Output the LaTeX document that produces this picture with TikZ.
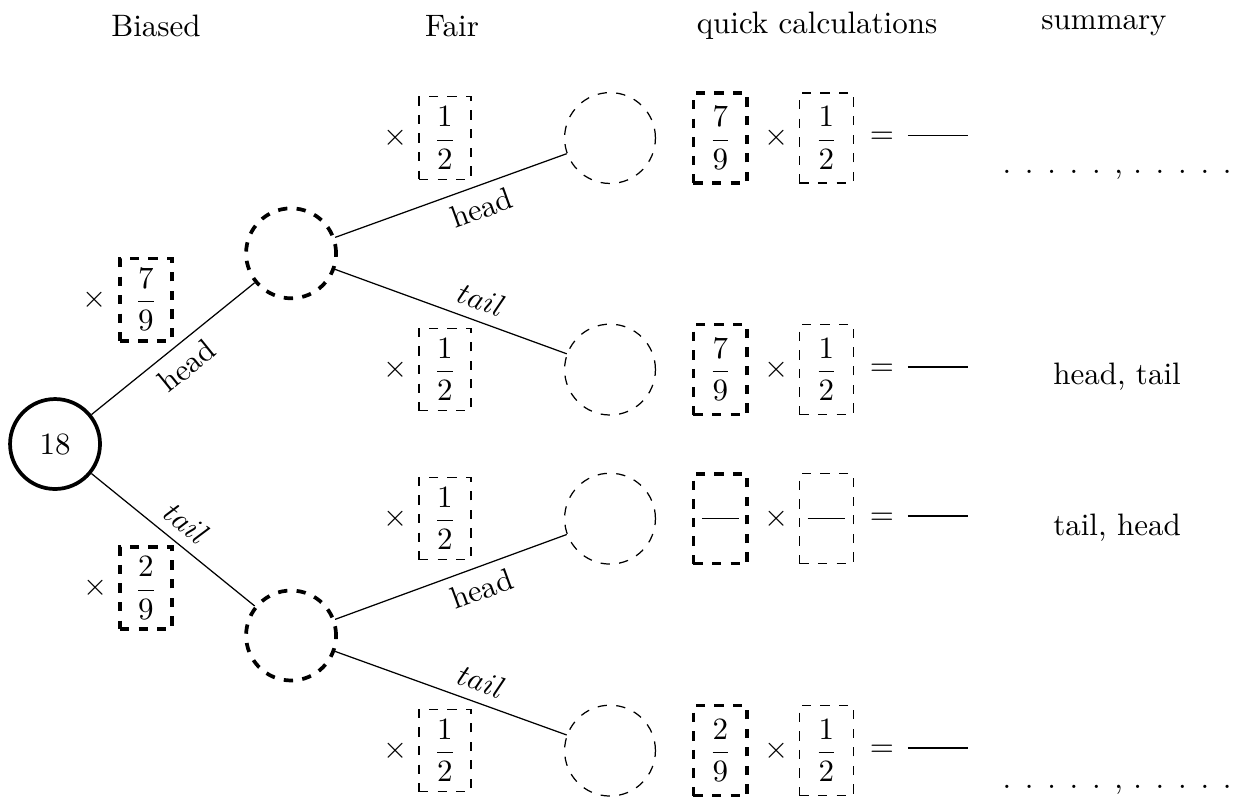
\documentclass[tikz,border=0pt]{standalone}
\usepackage{amsmath}
\usetikzlibrary{positioning}

\begin{document}
\begin{tikzpicture}[
    start/.style={circle, draw, very thick, minimum size=1.02cm},
    biased/.style={circle, draw, very thick, dashed, minimum size=1.02cm},
    fair/.style={circle, draw, dashed, minimum size=1.03cm},
    biasbox/.style={draw, very thick, dashed, minimum width=0.59cm, minimum height=0.935cm, inner sep=0pt},
    fairbox/.style={draw, dashed, minimum width=0.59cm, minimum height=0.935cm, inner sep=0pt},
    calcbox/.style={draw, dashed, minimum width=0.61cm, minimum height=1.02cm, inner sep=0pt}]
  \useasboundingbox (0,0) rectangle (14.07,-9.06);
  % column titles
  \node (tb) at (1.769,-0.295) {Biased};
  \node (tf) at (5.125,-0.295) {Fair};
  \node (tq) at (9.263,-0.295) {quick calculations};
  \node (ts) at (12.517,-0.295) {summary};
  % tree
  \node[start] (r) at (0.624,-5.034) {18};
  \node[biased] (h) at (3.30,-2.872) {};
  \node[biased] (t) at (3.30,-7.205) {};
  \node[fair] (hh) at (6.916,-1.565) {};
  \node[fair] (ht) at (6.916,-4.19) {};
  \node[fair] (th) at (6.916,-5.88) {};
  \node[fair] (tt) at (6.916,-8.51) {};
  \draw (r) -- node[sloped, below] {head} (h);
  \draw (r) -- node[sloped, above] {$tail$} (t);
  \draw (h) -- node[sloped, below, pos=0.6] {head} (hh);
  \draw (h) -- node[sloped, above, pos=0.6] {$tail$} (ht);
  \draw (t) -- node[sloped, below, pos=0.6] {head} (th);
  \draw (t) -- node[sloped, above, pos=0.6] {$tail$} (tt);
  % probabilities on the branches
  \node[biasbox] (b1) at (1.653,-3.398) {$\dfrac{7}{9}$};
  \node[left=0pt of b1] (xb1) {$\times$};
  \node[biasbox] (b2) at (1.655,-6.667) {$\dfrac{2}{9}$};
  \node[left=0pt of b2] (xb2) {$\times$};
  \node[fairbox] (f1) at (5.045,-1.565) {$\dfrac{1}{2}$};
  \node[left=0pt of f1] (xf1) {$\times$};
  \node[fairbox] (f2) at (5.045,-4.19) {$\dfrac{1}{2}$};
  \node[left=0pt of f2] (xf2) {$\times$};
  \node[fairbox] (f3) at (5.045,-5.88) {$\dfrac{1}{2}$};
  \node[left=0pt of f3] (xf3) {$\times$};
  \node[fairbox] (f4) at (5.045,-8.51) {$\dfrac{1}{2}$};
  \node[left=0pt of f4] (xf4) {$\times$};
  % quick calculations
  \node[calcbox, very thick] (c1a) at (8.167,-1.565) {$\dfrac{7}{9}$};
  \node (c1x) at (8.806,-1.565) {$\times$};
  \node[calcbox] (c1b) at (9.368,-1.565) {$\dfrac{1}{2}$};
  \node (c1e) at (10.42,-1.565) {$=\,\rule[2.5pt]{19.5pt}{0.4pt}$};
  \node[calcbox, very thick] (c2a) at (8.167,-4.19) {$\dfrac{7}{9}$};
  \node (c2x) at (8.806,-4.19) {$\times$};
  \node[calcbox] (c2b) at (9.368,-4.19) {$\dfrac{1}{2}$};
  \node (c2e) at (10.42,-4.19) {$=\,\rule[2.5pt]{19.5pt}{0.4pt}$};
  \node[calcbox, very thick] (c3a) at (8.167,-5.88) {\rule{12pt}{0.4pt}};
  \node (c3x) at (8.806,-5.88) {$\times$};
  \node[calcbox] (c3b) at (9.368,-5.88) {\rule{12pt}{0.4pt}};
  \node (c3e) at (10.42,-5.88) {$=\,\rule[2.5pt]{19.5pt}{0.4pt}$};
  \node[calcbox, very thick] (c4a) at (8.167,-8.51) {$\dfrac{2}{9}$};
  \node (c4x) at (8.806,-8.51) {$\times$};
  \node[calcbox] (c4b) at (9.368,-8.51) {$\dfrac{1}{2}$};
  \node (c4e) at (10.42,-8.51) {$=\,\rule[2.5pt]{19.5pt}{0.4pt}$};
  % summary
  \node[anchor=base] (s1) at (12.664,-1.965) {. . . . . , . . . . .};
  \node[anchor=base] (s2) at (12.664,-4.354) {head, tail};
  \node[anchor=base] (s3) at (12.664,-6.066) {tail, head};
  \node[anchor=base] (s4) at (12.664,-8.938) {. . . . . , . . . . .};
\end{tikzpicture}
\end{document}
